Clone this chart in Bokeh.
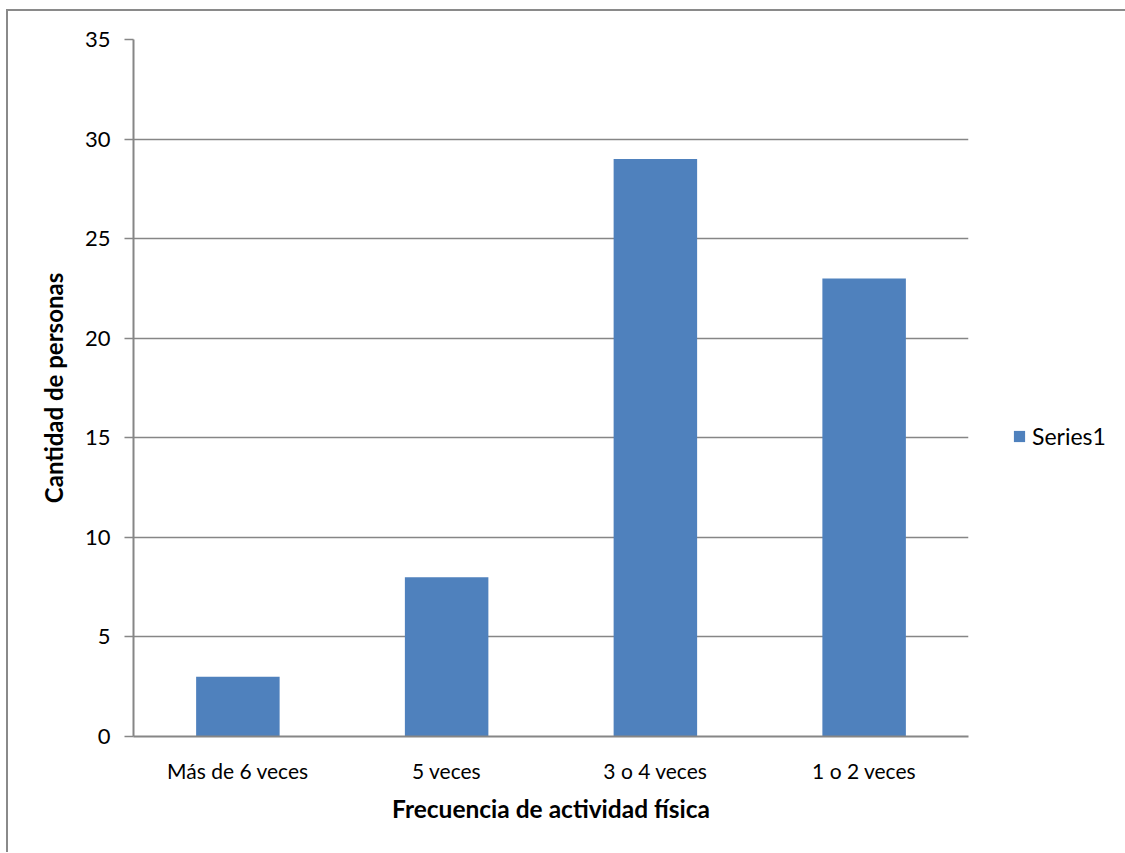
from bokeh.plotting import figure
from bokeh.models import Legend, LegendItem, FixedTicker, Range1d
from bokeh.embed import file_html
from bokeh.resources import INLINE

categories = ["Más de 6 veces", "5 veces", "3 o 4 veces", "1 o 2 veces"]
values = [3, 8, 29, 23]
series_name = "Series1"
y_ticks = [0, 5, 10, 15, 20, 25, 30, 35]

FONT = "Lato"
GRAY = "#868686"

p = figure(x_range=categories, y_range=Range1d(0, 35),
           width=1117, height=841, output_backend="svg", toolbar_location=None,
           min_border_left=125, min_border_top=28, min_border_bottom=116, min_border_right=157,
           frame_width=835, frame_height=697)
p.styles = {"border-top": "2px solid #8a8a8a", "border-left": "2px solid #8a8a8a",
            "border-right": "2px solid #8a8a8a", "box-sizing": "border-box",
            "margin-left": "6px", "margin-top": "9px"}
p.outline_line_color = None

r = p.vbar(x=categories, top=values, width=0.4, fill_color="#4F81BD", line_color=None)

p.xgrid.grid_line_color = None
p.ygrid.grid_line_color = GRAY
p.ygrid.grid_line_width = 1.5
p.yaxis.ticker = FixedTicker(ticks=y_ticks)
p.yaxis.minor_tick_line_color = None
p.yaxis.major_tick_in = 0
p.yaxis.major_tick_out = 9
p.yaxis.major_tick_line_color = GRAY
p.yaxis.major_tick_line_width = 1.5
p.yaxis.axis_line_color = GRAY
p.yaxis.axis_line_width = 2
p.yaxis.major_label_text_font = FONT
p.yaxis.major_label_text_font_size = "22px"
p.yaxis.major_label_text_color = "#000000"
p.yaxis.major_label_standoff = 14
p.yaxis.axis_label = "Cantidad de personas"
p.yaxis.axis_label_text_font = FONT
p.yaxis.axis_label_text_font_style = "bold"
p.yaxis.axis_label_text_font_size = "24px"
p.yaxis.axis_label_text_color = "#000000"
p.yaxis.axis_label_standoff = 14

p.xaxis.major_tick_line_color = None
p.xaxis.minor_tick_line_color = None
p.xaxis.axis_line_color = GRAY
p.xaxis.axis_line_width = 2
p.xaxis.major_label_text_font = FONT
p.xaxis.major_label_text_font_size = "21px"
p.xaxis.major_label_text_color = "#000000"
p.xaxis.major_label_standoff = 15
p.xaxis.axis_label = "Frecuencia de actividad física"
p.xaxis.axis_label_text_font = FONT
p.xaxis.axis_label_text_font_style = "bold"
p.xaxis.axis_label_text_font_size = "24.5px"
p.xaxis.axis_label_text_color = "#000000"
p.xaxis.axis_label_standoff = 8

legend = Legend(items=[LegendItem(label=series_name, renderers=[r])],
                location=(44, 286), border_line_color=None, background_fill_alpha=0,
                label_text_font=FONT, label_text_font_size="23px", label_text_color="#000000",
                glyph_width=14, glyph_height=14, padding=0, margin=0, label_standoff=6)
p.add_layout(legend, "right")

open("out.html", "w").write(file_html(p, INLINE))
